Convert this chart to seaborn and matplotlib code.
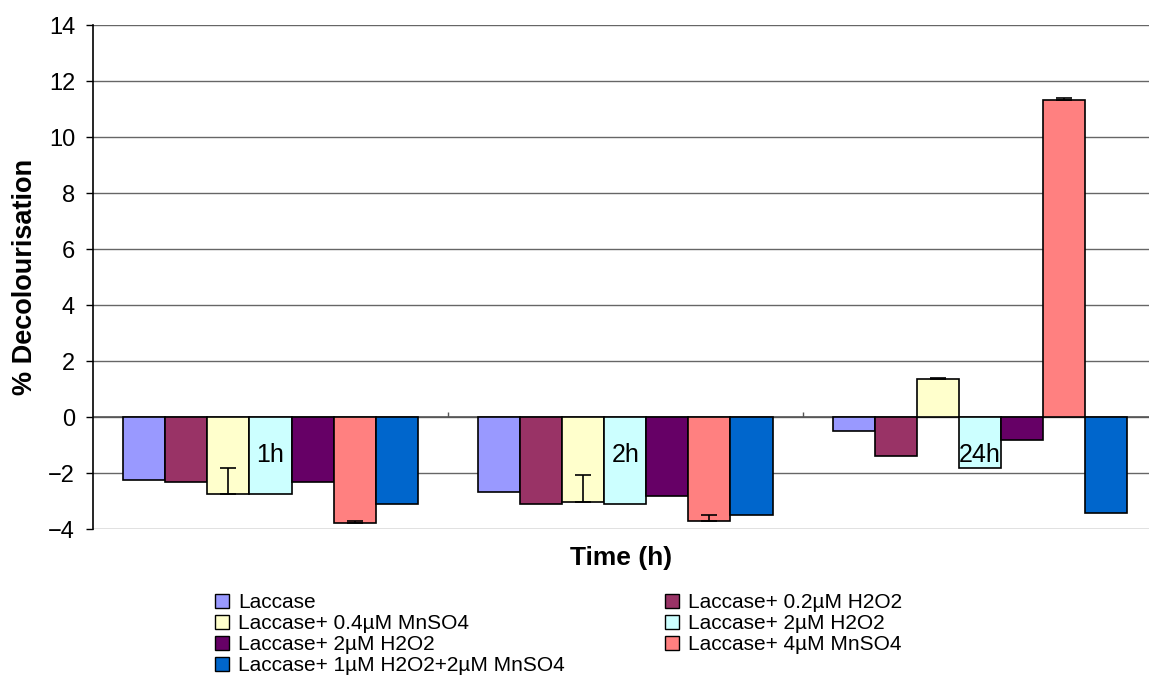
import matplotlib
matplotlib.use("Agg")
import matplotlib.pyplot as plt
from matplotlib.patches import Patch
import numpy as np
import pandas as pd
import seaborn as sns

# ── Data ──────────────────────────────────────────────────────────────────────
times = ["1h", "2h", "24h"]
series = [
    "Laccase",
    "Laccase+ 0.2µM H2O2",
    "Laccase+ 0.4µM MnSO4",
    "Laccase+ 2µM H2O2",
    "Laccase+ 2µM H2O2",
    "Laccase+ 4µM MnSO4",
    "Laccase+ 1µM H2O2+2µM MnSO4",
]
colors = ["#9999FF", "#993366", "#FFFFCC", "#CCFFFF", "#660066", "#FF8080", "#0066CC"]

laccase        = [-2.25, -2.69, -0.48]
h2o2_02        = [-2.33, -3.10, -1.39]
mnso4_04       = [-2.75, -3.02, 1.37]
h2o2_2_a       = [-2.75, -3.10, -1.80]
h2o2_2_b       = [-2.33, -2.82, -0.83]
mnso4_4        = [-3.77, -3.71, 11.32]
h2o2_mnso4     = [-3.10, -3.51, -3.44]

err_mnso4_04   = [0.95, 0.95, 0.03]
err_mnso4_4    = [0.07, 0.21, 0.08]

values = [laccase, h2o2_02, mnso4_04, h2o2_2_a, h2o2_2_b, mnso4_4, h2o2_mnso4]
errors = {2: err_mnso4_04, 5: err_mnso4_4}

# long form with unique hue keys (two series share a label)
rows = []
for s, vals in enumerate(values):
    for t, v in zip(times, vals):
        rows.append({"time": t, "series": f"s{s}", "value": v})
df = pd.DataFrame(rows)

plt.rcParams["font.family"] = ["Liberation Sans", "DejaVu Sans"]

fig = plt.figure(figsize=(11.49, 6.81), dpi=100)
ax = fig.add_axes([0.081, 0.223, 0.919, 0.740])

hue_order = [f"s{s}" for s in range(len(values))]
sns.barplot(data=df, x="time", y="value", hue="series", hue_order=hue_order,
            order=times, palette=colors, saturation=1, width=0.83,
            edgecolor="black", linewidth=1.2, errorbar=None, legend=False,
            ax=ax, zorder=3)

# one-sided error bars (towards the positive side)
n_cat = len(times)
for s, err in errors.items():
    bars = ax.patches[s * n_cat:(s + 1) * n_cat]
    for b, v, e in zip(bars, values[s], err):
        xc = b.get_x() + b.get_width() / 2
        ax.errorbar(xc, v, yerr=[[0], [e]], fmt="none", ecolor="black",
                    elinewidth=1.2, capsize=6, capthick=1.2, zorder=4)

ax.set_ylim(-4, 14)
ax.set_xlim(-0.5, 2.476)
ax.set_yticks(np.arange(-4, 15, 2))
ax.tick_params(axis="y", labelsize=17, length=5, width=1, pad=8,
               direction="out", color="black")
ax.set_xticks([])
ax.yaxis.grid(True, color="#666666", linewidth=1)
ax.set_axisbelow(True)
ax.axhline(0, color="#555555", linewidth=1.2, zorder=2)
ax.vlines([0.5, 1.5], 0, 0.2, color="#555555", linewidth=1, zorder=2)
for side in ["top", "right", "bottom"]:
    ax.spines[side].set_visible(False)
ax.spines["left"].set_color("black")
ax.spines["left"].set_linewidth(1.2)

# category labels sit on the zero axis, as in the original spreadsheet chart
for i, t in enumerate(times):
    ax.text(i, -1.36, t, ha="center", va="center", fontsize=18, zorder=5)

ax.set_ylabel("% Decolourisation", fontsize=19.5, fontweight="bold", labelpad=7)
ax.set_xlabel("Time (h)", fontsize=19, fontweight="bold", labelpad=12)

# two legend columns, filled row by row like the original
handles = [Patch(facecolor=c, edgecolor="black", linewidth=1) for c in colors]
leg_kw = dict(loc="upper left", frameon=False, fontsize=15, labelspacing=0.1,
              handlelength=0.65, handleheight=0.65, handletextpad=0.45,
              borderaxespad=0, borderpad=0)
left_idx, right_idx = [0, 2, 4, 6], [1, 3, 5]
fig.legend([handles[i] for i in left_idx], [series[i] for i in left_idx],
           bbox_to_anchor=(215 / 1149, 1 - 593 / 681), **leg_kw)
fig.legend([handles[i] for i in right_idx], [series[i] for i in right_idx],
           bbox_to_anchor=(665 / 1149, 1 - 593 / 681), **leg_kw)

fig.savefig("out.png", dpi=100)
